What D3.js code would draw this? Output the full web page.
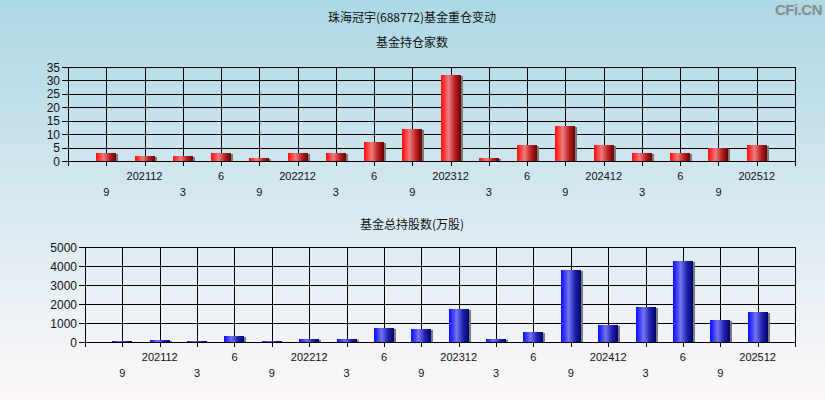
<!DOCTYPE html>
<html><head><meta charset="utf-8">
<script src="https://cdn.jsdelivr.net/npm/d3@7"></script>
<style>
html,body{margin:0;padding:0;}
body{width:825px;height:400px;overflow:hidden;}
text{font-family:"Liberation Sans",Arial,sans-serif;}
.cjk{font-family:"Noto Sans CJK SC","Liberation Sans",sans-serif;}
</style></head>
<body>
<svg id="chart" width="825" height="400"></svg>
<script>
const mainTitle = "珠海冠宇(688772)基金重仓变动";
const topTitle = "基金持仓家数";
const bottomTitle = "基金总持股数(万股)";
const periods = ["202109","202112","202203","202206","202209","202212","202303","202306","202309","202312","202403","202406","202409","202412","202503","202506","202509","202512"];
const tickLabels = ["9","202112","3","6","9","202212","3","6","9","202312","3","6","9","202412","3","6","9","202512"];
const fundCounts = [3,2,2,3,1,3,3,7,12,32,1,6,13,6,3,3,5,6];
const sharesWan = [60,120,50,330,50,175,175,750,700,1750,150,540,3800,910,1860,4280,1170,1595];
const countTicks = [0,5,10,15,20,25,30,35];
const shareTicks = [0,1000,2000,3000,4000,5000];

const svg = d3.select("#chart");
const defs = svg.append("defs");
const bg = defs.append("linearGradient").attr("id","bg").attr("x1",0).attr("y1",0).attr("x2",0).attr("y2",1);
bg.append("stop").attr("offset","0%").attr("stop-color","#acd8e6");
bg.append("stop").attr("offset","50%").attr("stop-color","#d6e8f0");
bg.append("stop").attr("offset","80%").attr("stop-color","#eef2f6");
bg.append("stop").attr("offset","100%").attr("stop-color","#fdf8f8");
function grad(id, stops){
  const g = defs.append("linearGradient").attr("id",id).attr("x1",0).attr("y1",0).attr("x2",1).attr("y2",0);
  stops.forEach(s=>g.append("stop").attr("offset",s[0]).attr("stop-color",s[1]));
}
grad("red",[["0%","#ff0a0a"],["12%","#ff2a2a"],["38%","#f07c7c"],["70%","#b82020"],["100%","#6a0000"]]);
grad("blue",[["0%","#0a0aff"],["12%","#2a2aff"],["38%","#7474f0"],["70%","#2020b0"],["100%","#00006a"]]);

svg.append("rect").attr("width",825).attr("height",400).attr("fill","url(#bg)");

svg.append("text").attr("class","cjk").attr("x",412).attr("y",22).attr("text-anchor","middle")
  .attr("font-size",12).attr("fill","#111").text(mainTitle);
svg.append("text").attr("x",822).attr("y",15).attr("text-anchor","end")
  .attr("font-size",15).attr("font-weight","bold").attr("fill","#8a8a8a").attr("letter-spacing","-0.5").text("CFi.CN");

function panel(cfg){
  const {left,right,top,bottom,values,ticks,maxV,fill,title,titleY,row1,row2} = cfg;
  const n = values.length;
  const x = d3.scaleLinear().domain([0,n+1]).range([left,right]);
  const y = d3.scaleLinear().domain([0,maxV]).range([bottom,top]);
  const g = svg.append("g");
  g.append("text").attr("class","cjk").attr("x",412).attr("y",titleY).attr("text-anchor","middle")
    .attr("font-size",12).attr("fill","#111").text(title);
  // horizontal gridlines
  g.selectAll(".hg").data(ticks).join("line")
    .attr("x1",left-6).attr("x2",right)
    .attr("y1",d=>Math.round(y(d))+0.5).attr("y2",d=>Math.round(y(d))+0.5)
    .attr("stroke","#000").attr("stroke-width",1);
  // vertical gridlines
  const vx = d3.range(0,n+2);
  g.selectAll(".vg").data(vx).join("line")
    .attr("x1",d=>Math.round(x(d))+0.5).attr("x2",d=>Math.round(x(d))+0.5)
    .attr("y1",top).attr("y2",bottom+5)
    .attr("stroke","#000").attr("stroke-width",1);
  // y labels
  g.selectAll(".yl").data(ticks).join("text")
    .attr("x",left-8).attr("y",d=>y(d)+4.5).attr("text-anchor","end")
    .attr("font-size",12).attr("fill","#111").text(d=>d);
  // bars
  const bw = 20;
  g.selectAll(".sh").data(values).join("rect")
    .attr("x",(d,i)=>Math.round(x(i+1)-bw/2)+bw).attr("y",d=>Math.round(y(d))+1)
    .attr("width",2).attr("height",d=>Math.max(0,Math.round(bottom)-Math.round(y(d))-1))
    .attr("fill","#7a7a7a");
  g.selectAll(".bar").data(values).join("rect")
    .attr("x",(d,i)=>Math.round(x(i+1)-bw/2)).attr("y",d=>Math.round(y(d)))
    .attr("width",bw).attr("height",d=>Math.max(1,Math.round(bottom)-Math.round(y(d))))
    .attr("fill",`url(#${fill})`);
  // redraw baseline on top
  g.append("line").attr("x1",left-6).attr("x2",right).attr("y1",Math.round(bottom)+0.5).attr("y2",Math.round(bottom)+0.5)
    .attr("stroke","#000");
  // x labels
  g.selectAll(".xl").data(tickLabels).join("text")
    .attr("x",(d,i)=>x(i+1)).attr("y",(d,i)=> i%2===0 ? row2 : row1)
    .attr("text-anchor","middle").attr("font-size",11).attr("fill","#111").text(d=>d);
}

panel({left:68,right:795,top:67,bottom:161,values:fundCounts,ticks:countTicks,maxV:35,fill:"red",
  title:topTitle,titleY:47,row1:180,row2:196});
panel({left:85,right:795,top:247,bottom:342,values:sharesWan,ticks:shareTicks,maxV:5000,fill:"blue",
  title:bottomTitle,titleY:229,row1:361,row2:377});
</script>
</body></html>
